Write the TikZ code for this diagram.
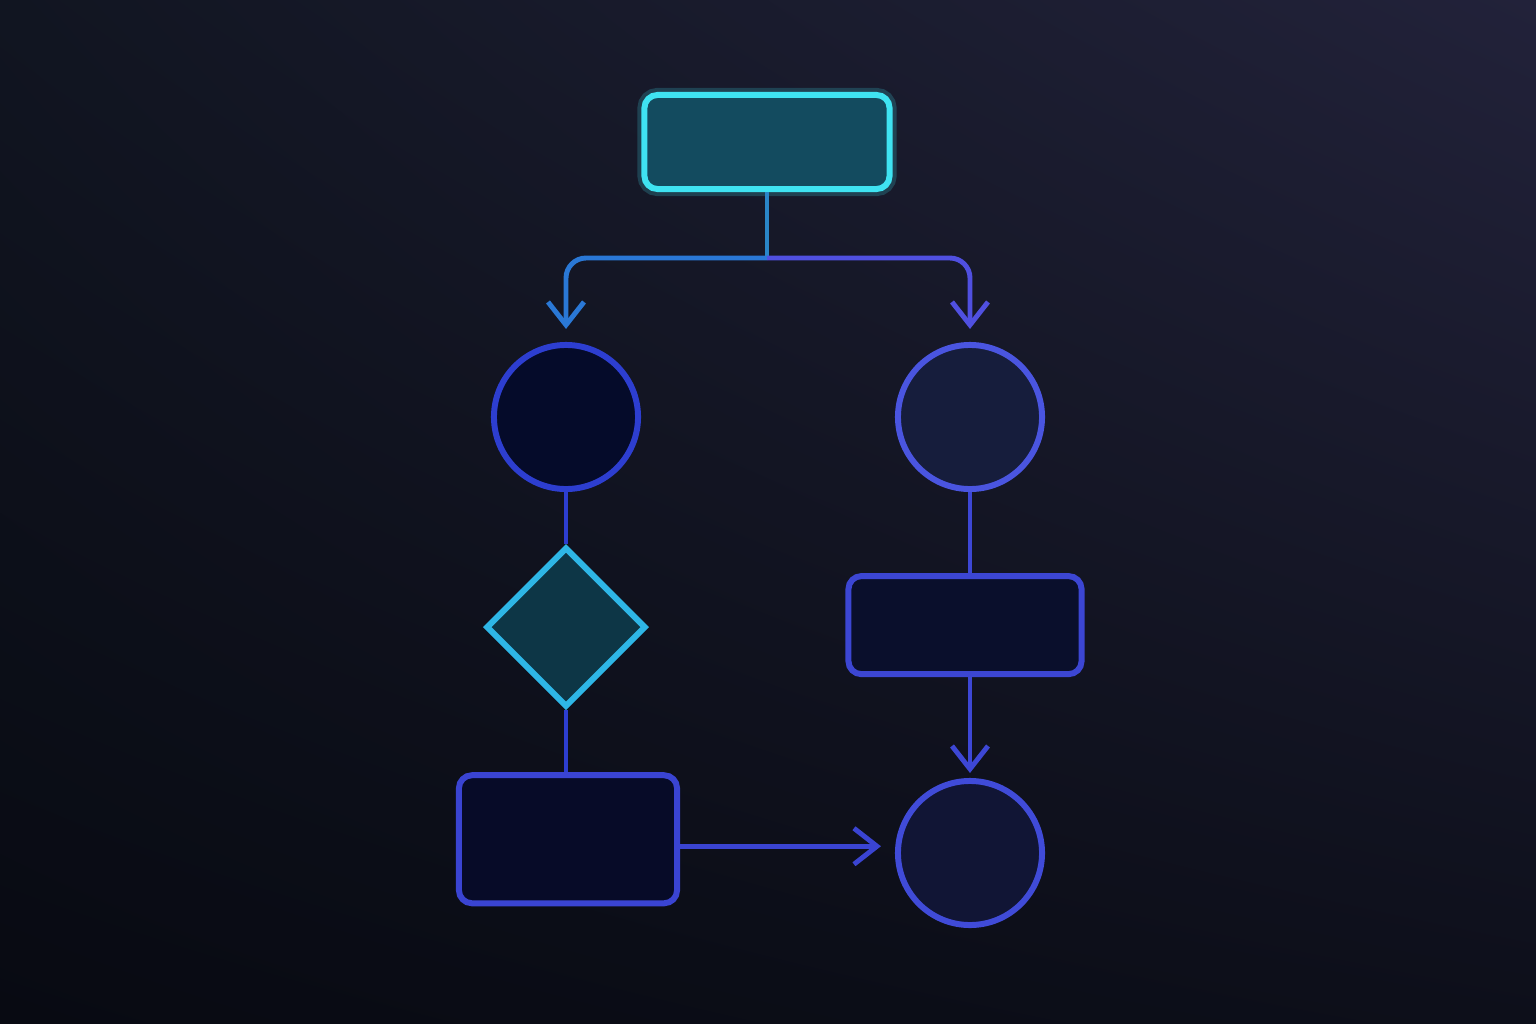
\documentclass[tikz,border=0pt]{standalone}
\usetikzlibrary{positioning, arrows.meta, shapes.geometric, shadings}

\definecolor{glowcyan}{HTML}{3FE3F2}
\definecolor{topfill}{HTML}{134B5F}
\definecolor{testline}{HTML}{2EB6E6}
\definecolor{testfill}{HTML}{0D3646}
\definecolor{leftline}{HTML}{2D3ED0}
\definecolor{leftfill}{HTML}{050B2A}
\definecolor{rightline}{HTML}{4A55E0}
\definecolor{rightfill}{HTML}{161D3C}
\definecolor{boxline}{HTML}{3A44D2}
\definecolor{boxfill}{HTML}{070B28}
\definecolor{endfill}{HTML}{111535}
\definecolor{trunk}{HTML}{2A86C8}
\definecolor{lbranch}{HTML}{2A78D6}
\definecolor{rbranch}{HTML}{5050E0}
\definecolor{bgul}{HTML}{111521}
\definecolor{bgur}{HTML}{22223A}
\definecolor{bgll}{HTML}{080A12}
\definecolor{bglr}{HTML}{0D0F1A}

\begin{document}
\begin{tikzpicture}[x=0.01cm,y=-0.01cm,node distance=2.1cm,line width=1.4pt,
    >={Straight Barb[length=2.3mm,width=3.6mm]},
    base node/.style={draw,line width=1.7pt},
    box node/.style={base node,rectangle,rounded corners=1.3mm},
    round node/.style={base node,circle,minimum size=1.44cm},
    test node/.style={base node,diamond,minimum width=1.6cm,minimum height=1.6cm,inner sep=0pt}]

% background
\shade[upper left=bgul, upper right=bgur, lower left=bgll, lower right=bglr]
  (0,0) rectangle (1536,1024);
\useasboundingbox (0,0) rectangle (1536,1024);

\node[box node,draw=glowcyan,fill=topfill,minimum width=2.45cm,minimum height=0.94cm,
      preaction={draw=glowcyan,line width=4pt,draw opacity=0.2}]    (top)   at (767,142)  {};
\node[round node,draw=leftline,fill=leftfill]                       (lcirc) at (566,417)  {};
\node[test node,draw=testline,fill=testfill]                        (test)  [below of=lcirc] {};
\node[box node,draw=boxline,fill=boxfill,minimum width=2.18cm,minimum height=1.28cm]
                                                                    (lbox)  [below of=test,node distance=2.12cm,xshift=0.02cm] {};
\node[round node,draw=rightline,fill=rightfill]                     (rcirc) at (970,417)  {};
\node[box node,draw=boxline!90!rightline,fill=boxfill!80!rightfill,minimum width=2.33cm,minimum height=0.98cm]
                                                                    (rbox)  [below of=rcirc,node distance=2.08cm,xshift=-0.05cm] {};
\node[round node,draw=boxline!60!rightline,fill=endfill]            (end)   at (970,853)  {};

\coordinate (split) at (767,258);

\draw[trunk] (top) -- (split);
\draw[->,lbranch,rounded corners=2mm,shorten >=1.3mm] (split) -| (lcirc);
\draw[->,rbranch,rounded corners=2mm,shorten >=1.3mm] (split) -| (rcirc);

\path[draw=leftline]
(lcirc) edge (test)
(test)  edge (lbox.north -| test.south)
;
\path[draw=boxline!80!rightline]
(rcirc) edge (rbox.north -| rcirc.south)
(rbox.south -| end.north) edge[->,shorten >=0.5mm] (end)
;
\draw[->,boxline,shorten >=1.4mm] ([yshift=-0.07cm]lbox.east) -- ([yshift=-0.07cm]lbox.east -| end.west);
\end{tikzpicture}
\end{document}
